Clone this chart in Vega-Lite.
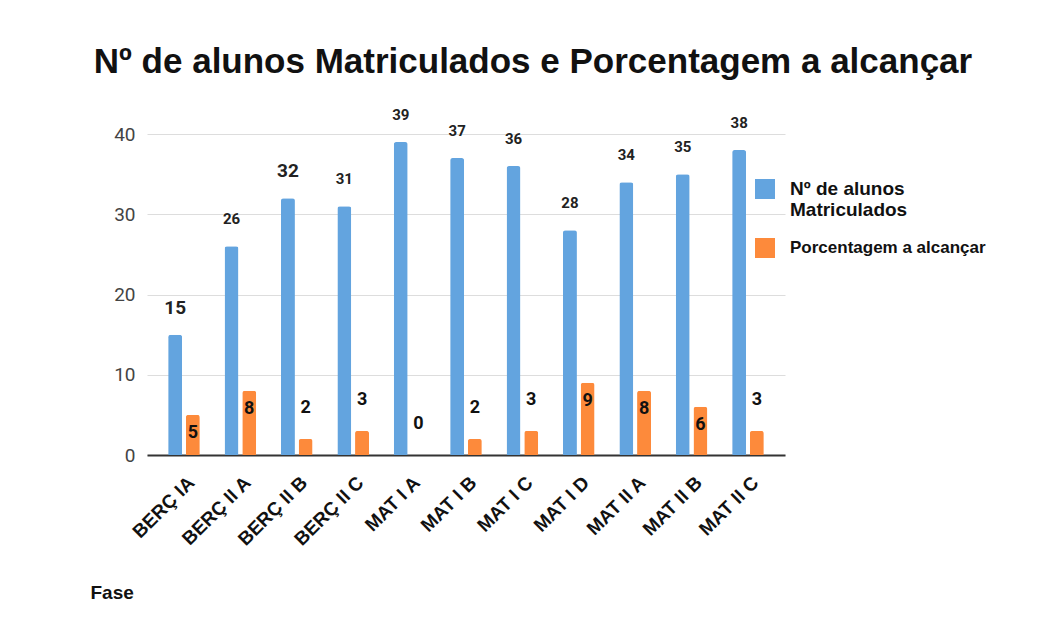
{
  "$schema": "https://vega.github.io/schema/vega-lite/v6.json",
  "autosize": {"type": "none"},
  "padding": {"left": 147, "top": 134, "right": 255, "bottom": 175},
  "width": 638,
  "height": 321,
  "background": "white",
  "title": {
    "text": "Nº de alunos Matriculados e Porcentagem a alcançar",
    "font": "Liberation Sans",
    "fontSize": 35,
    "fontWeight": "bold",
    "color": "#111111",
    "anchor": "middle",
    "frame": "group",
    "dx": 67,
    "dy": 20,
    "baseline": "alphabetic",
    "offset": 20
  },
  "config": {
    "view": {"stroke": null},
    "font": "Liberation Sans"
  },
  "data": {
    "values": [
      {"fase": "BERÇ IA", "serie": "Nº de alunos Matriculados", "valor": 15},
      {"fase": "BERÇ IA", "serie": "Porcentagem a alcançar", "valor": 5},
      {"fase": "BERÇ II A", "serie": "Nº de alunos Matriculados", "valor": 26},
      {"fase": "BERÇ II A", "serie": "Porcentagem a alcançar", "valor": 8},
      {"fase": "BERÇ II B", "serie": "Nº de alunos Matriculados", "valor": 32},
      {"fase": "BERÇ II B", "serie": "Porcentagem a alcançar", "valor": 2},
      {"fase": "BERÇ II C", "serie": "Nº de alunos Matriculados", "valor": 31},
      {"fase": "BERÇ II C", "serie": "Porcentagem a alcançar", "valor": 3},
      {"fase": "MAT I A", "serie": "Nº de alunos Matriculados", "valor": 39},
      {"fase": "MAT I A", "serie": "Porcentagem a alcançar", "valor": 0},
      {"fase": "MAT I B", "serie": "Nº de alunos Matriculados", "valor": 37},
      {"fase": "MAT I B", "serie": "Porcentagem a alcançar", "valor": 2},
      {"fase": "MAT I C", "serie": "Nº de alunos Matriculados", "valor": 36},
      {"fase": "MAT I C", "serie": "Porcentagem a alcançar", "valor": 3},
      {"fase": "MAT I D", "serie": "Nº de alunos Matriculados", "valor": 28},
      {"fase": "MAT I D", "serie": "Porcentagem a alcançar", "valor": 9},
      {"fase": "MAT II A", "serie": "Nº de alunos Matriculados", "valor": 34},
      {"fase": "MAT II A", "serie": "Porcentagem a alcançar", "valor": 8},
      {"fase": "MAT II B", "serie": "Nº de alunos Matriculados", "valor": 35},
      {"fase": "MAT II B", "serie": "Porcentagem a alcançar", "valor": 6},
      {"fase": "MAT II C", "serie": "Nº de alunos Matriculados", "valor": 38},
      {"fase": "MAT II C", "serie": "Porcentagem a alcançar", "valor": 3}
    ]
  },
  "encoding": {
    "x": {
      "field": "fase",
      "type": "nominal",
      "sort": null,
      "scale": {"paddingInner": 0.438, "paddingOuter": 0.375},
      "axis": {
        "title": "Fase",
        "titleFont": "Liberation Sans",
        "titleFontSize": 19,
        "titleFontWeight": "bold",
        "titleColor": "#111111",
        "titleAngle": 0,
        "titleAlign": "left",
        "titleBaseline": "alphabetic",
        "titleX": -57,
        "titleY": 143,
        "labelAngle": -45,
        "labelFont": "Liberation Sans",
        "labelFontSize": 19,
        "labelFontWeight": "bold",
        "labelColor": "#111111",
        "labelPadding": 18,
        "labelOffset": 1,
        "ticks": false,
        "domainColor": "#333333",
        "domainWidth": 2,
        "grid": false
      }
    },
    "xOffset": {
      "field": "serie",
      "type": "nominal",
      "scale": {"paddingInner": 0.21}
    },
    "y": {
      "field": "valor",
      "type": "quantitative",
      "scale": {"domain": [0, 40], "nice": false},
      "axis": {
        "title": null,
        "values": [0, 10, 20, 30, 40],
        "labelFont": "Roboto",
        "labelFontSize": 19,
        "labelColor": "#444444",
        "labelPadding": 12,
        "ticks": false,
        "domain": false,
        "gridColor": "#dddddd",
        "gridWidth": 1
      }
    }
  },
  "layer": [
    {
      "mark": {"type": "bar", "cornerRadiusEnd": 2.5},
      "encoding": {
        "color": {
          "field": "serie",
          "type": "nominal",
          "scale": {
            "domain": ["Nº de alunos Matriculados", "Porcentagem a alcançar"],
            "range": ["#63a4df", "#fd8a3b"]
          },
          "legend": {
            "title": null,
            "orient": "none",
            "legendX": 608,
            "legendY": 45,
            "symbolType": "square",
            "symbolSize": 400,
            "symbolStrokeWidth": 0,
            "labelFont": "Liberation Sans",
            "labelFontSize": {"expr": "datum.index == 0 ? 19 : 17"},
            "labelFontWeight": "bold",
            "labelColor": "#111111",
            "labelOffset": 15,
            "labelLimit": 300,
            "rowPadding": 18,
            "labelExpr": "datum.label == 'Nº de alunos Matriculados' ? ['Nº de alunos', 'Matriculados'] : datum.label"
          }
        }
      }
    },
    {
      "transform": [{"filter": "datum.serie == 'Nº de alunos Matriculados'"}],
      "mark": {
        "type": "text",
        "dy": -27,
        "baseline": "middle",
        "font": "Roboto",
        "fontWeight": "bold",
        "color": "#222222"
      },
      "encoding": {
        "text": {"field": "valor", "type": "quantitative"},
        "size": {
          "condition": {"test": "datum.fase == 'BERÇ IA' || datum.fase == 'BERÇ II B'", "value": 19},
          "value": 15
        }
      }
    },
    {
      "transform": [{"filter": "datum.serie == 'Porcentagem a alcançar' && datum.valor >= 5"}],
      "mark": {
        "type": "text",
        "dy": 18,
        "baseline": "middle",
        "font": "Roboto",
        "fontSize": 18,
        "fontWeight": "bold",
        "color": "#111111"
      },
      "encoding": {"text": {"field": "valor", "type": "quantitative"}}
    },
    {
      "transform": [{"filter": "datum.serie == 'Porcentagem a alcançar' && datum.valor < 5"}],
      "mark": {
        "type": "text",
        "dy": -31,
        "baseline": "middle",
        "font": "Roboto",
        "fontSize": 18,
        "fontWeight": "bold",
        "color": "#111111"
      },
      "encoding": {"text": {"field": "valor", "type": "quantitative"}}
    }
  ]
}
